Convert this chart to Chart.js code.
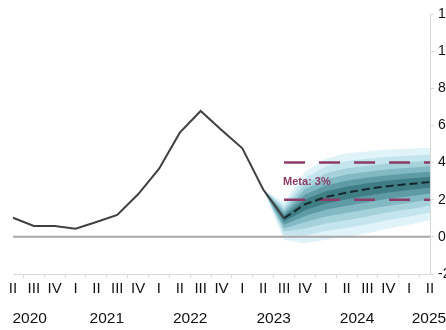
<!DOCTYPE html>
<html>
<head>
<meta charset="utf-8">
<script src="https://cdn.jsdelivr.net/npm/chart.js@4.4.1/dist/chart.umd.min.js"></script>
<style>
    html, body { margin: 0; padding: 0; background: #fff; overflow: hidden; }
    #wrap { width: 446px; height: 330px; overflow: hidden; }
    #box { width: 460px; height: 330px; position: relative; }
</style>
</head>
<body>
<div id="wrap"><div id="box"><canvas id="chart"></canvas></div></div>
<script>
// Trimestres (2020 II -> 2025 II)
const quarters = ['II', 'III', 'IV', 'I', 'II', 'III', 'IV', 'I', 'II', 'III', 'IV',
                  'I', 'II', 'III', 'IV', 'I', 'II', 'III', 'IV', 'I', 'II'];
const years = ['2020', '2021', '2022', '2023', '2024', '2025'];

// Inflation observée
const observed = [1.03, 0.59, 0.59, 0.44, 0.80, 1.18, 2.29, 3.66, 5.61, 6.78, 5.76,
                  4.77, 2.55, 1.00, null, null, null, null, null, null, null];
// Projection centrale (pointillés)
const forecast = [null, null, null, null, null, null, null, null, null, null, null,
                  null, null, 1.00, 1.75, 2.15, 2.38, 2.58, 2.73, 2.85, 2.95];
// Meta 3% +/- 1
const metaHigh = [null, null, null, null, null, null, null, null, null, null, null,
                  null, null, 4, 4, 4, 4, 4, 4, 4, 4];
const metaLow = [null, null, null, null, null, null, null, null, null, null, null,
                 null, null, 2, 2, 2, 2, 2, 2, 2, 2];
const zeroLine = [0, 0, 0, 0, 0, 0, 0, 0, 0, 0, 0, 0, 0, 0, 0, 0, 0, 0, 0, 0, 0];

// Éventail (à partir de 2023 II), du plus large au plus étroit
const fanUpper = [
    [2.55, 1.85, 3.50, 4.20, 4.50, 4.60, 4.70, 4.75, 4.80],
    [2.55, 1.68, 3.15, 3.79, 4.08, 4.20, 4.31, 4.37, 4.43],
    [2.55, 1.52, 2.84, 3.42, 3.69, 3.83, 3.95, 4.03, 4.10],
    [2.55, 1.38, 2.56, 3.09, 3.36, 3.51, 3.64, 3.72, 3.80],
    [2.55, 1.25, 2.28, 2.77, 3.02, 3.19, 3.32, 3.42, 3.51],
    [2.55, 1.12, 2.01, 2.46, 2.70, 2.88, 3.03, 3.14, 3.23]
];
const fanLower = [
    [2.55, -0.15, -0.35, -0.15, 0.00, 0.20, 0.45, 0.65, 0.90],
    [2.55, 0.08, 0.07, 0.31, 0.48, 0.68, 0.91, 1.09, 1.31],
    [2.55, 0.29, 0.45, 0.72, 0.90, 1.10, 1.32, 1.49, 1.68],
    [2.55, 0.47, 0.78, 1.09, 1.29, 1.49, 1.68, 1.84, 2.01],
    [2.55, 0.65, 1.12, 1.46, 1.67, 1.87, 2.05, 2.19, 2.33],
    [2.55, 0.83, 1.43, 1.80, 2.02, 2.22, 2.39, 2.52, 2.64]
];
const fanColors = ['#e0f3f9', '#c5e5ee', '#a6d2dc', '#83b9c3', '#5f9ba5', '#407e86'];

const pad = arr => Array(12).fill(null).concat(arr);

// Construction des datasets de l'éventail
const fanSets = [];
fanUpper.forEach((up, i) => {
    fanSets.push({
        data: pad(up),
        borderWidth: 0,
        pointRadius: 0,
        backgroundColor: fanColors[i],
        fill: '+1',
        order: 20 - i
    });
    fanSets.push({
        data: pad(fanLower[i]),
        borderWidth: 0,
        pointRadius: 0,
        fill: false,
        order: 20 - i
    });
});

const purple = '#8d3b67';
const narrow = '"Liberation Sans Narrow", "Liberation Sans", Arial, sans-serif';

// Libellés des années sous les trimestres + texte de la meta
const yearPlugin = {
    id: 'yearLabels',
    afterDraw(chart) {
        const ctx = chart.ctx;
        const x = chart.scales.x;
        const yy = chart.scales.y;
        const at = [0.8, 4.5, 8.5, 12.5, 16.5, 19.95];
        ctx.save();
        ctx.font = '15.5px ' + narrow;
        ctx.fillStyle = '#111';
        ctx.textAlign = 'center';
        ctx.textBaseline = 'middle';
        years.forEach((y, i) => ctx.fillText(y, x.getPixelForValue(at[i]), 319));
        ctx.font = 'bold 11px ' + narrow;
        ctx.fillStyle = purple;
        ctx.textAlign = 'left';
        ctx.fillText('Meta: 3%', x.getPixelForValue(13) - 1, yy.getPixelForValue(3) + 1);
        ctx.restore();
    }
};

new Chart(document.getElementById('chart'), {
    type: 'line',
    data: {
        labels: quarters,
        datasets: [
            { data: observed, borderColor: '#404040', borderWidth: 2, pointRadius: 0, fill: false, order: 0 },
            { data: forecast, borderColor: '#15272a', borderWidth: 2, borderDash: [8, 4], pointRadius: 0, fill: false, order: 1 },
            { data: metaHigh, borderColor: purple, borderWidth: 2.5, borderDash: [21, 14], pointRadius: 0, fill: false, order: 2 },
            { data: metaLow, borderColor: purple, borderWidth: 2.5, borderDash: [21, 14], pointRadius: 0, fill: false, order: 2 },
            { data: zeroLine, borderColor: '#a6a6a6', borderWidth: 2, pointRadius: 0, fill: false, order: 3 },
            ...fanSets
        ]
    },
    options: {
        responsive: true,
        maintainAspectRatio: false,
        animation: false,
        layout: { padding: { left: 13, top: 14, right: 0, bottom: 0 } },
        plugins: {
            legend: { display: false },
            tooltip: { enabled: false }
        },
        scales: {
            x: {
                offset: false,
                grid: { drawOnChartArea: false, offset: true, color: '#d9d9d9', tickLength: 4 },
                border: { color: '#d9d9d9' },
                ticks: {
                    autoSkip: false, maxRotation: 0, padding: 2, color: '#111',
                    font: { family: narrow, size: 15 }
                },
                afterFit: s => { s.height = 56; }
            },
            y: {
                position: 'right',
                min: -2,
                max: 12,
                grid: { drawOnChartArea: false, color: '#d9d9d9', tickLength: 4 },
                border: { color: '#d9d9d9' },
                ticks: {
                    stepSize: 2, padding: 4, color: '#111',
                    font: { family: '"Liberation Sans", Arial, sans-serif', size: 14 }
                },
                afterFit: s => { s.width = 30; }
            }
        }
    },
    plugins: [yearPlugin]
});
</script>
</body>
</html>
